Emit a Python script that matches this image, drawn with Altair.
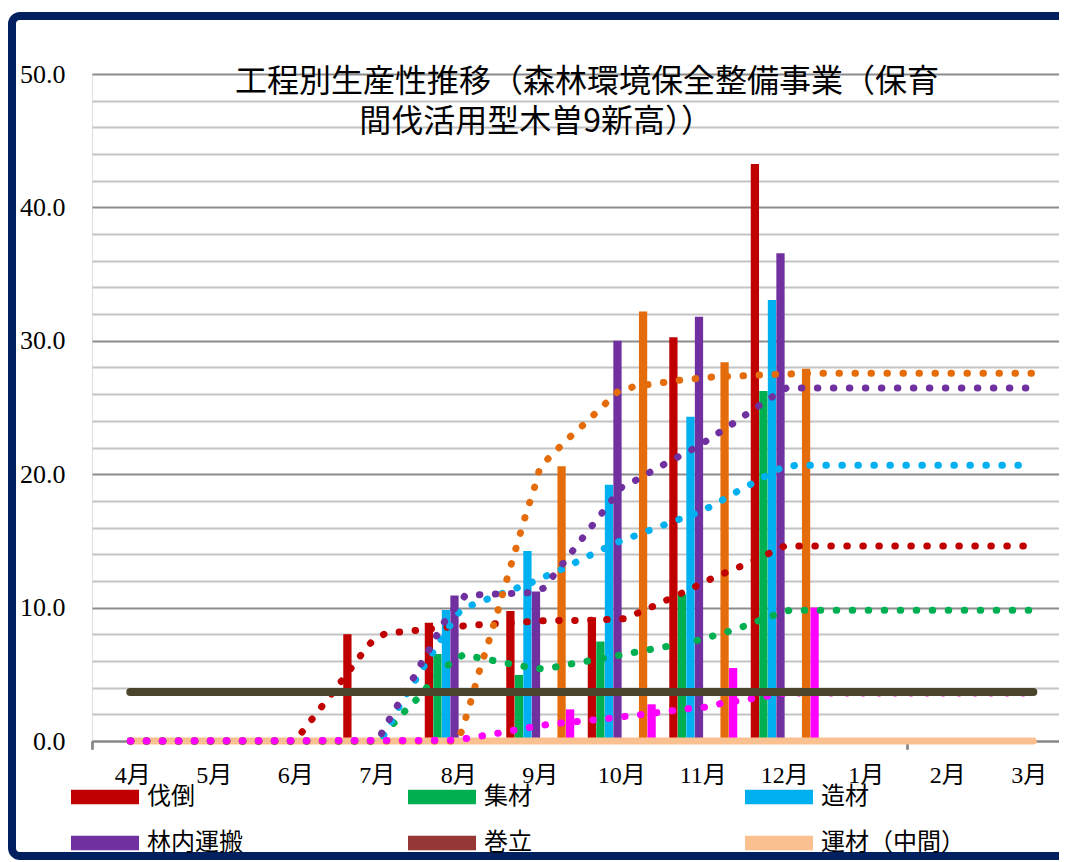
import altair as alt
import pandas as pd

# ---------------- data ----------------
months = ["4月", "5月", "6月", "7月", "8月", "9月", "10月", "11月", "12月", "1月", "2月", "3月"]
bar_series = ["伐倒", "集材", "造材", "林内運搬", "巻立", "運材（中間）", "系列7", "系列8"]
bar_colors = ["#C00000", "#00B050", "#00B0F0", "#7030A0", "#953735", "#FAC090", "#E46C0A", "#FF00FF"]
legend_items = bar_series[:6]

felling    = [None, None, None, 8.0, 8.87, 9.74, 9.27, 30.26, 43.25, None, None, None]
yarding    = [None, None, None, None, 6.52, 4.95, 7.45, 11.0, 26.24, None, None, None]
bucking    = [None, None, None, None, 9.82, 14.25, 19.2, 24.3, 33.06, None, None, None]
forwarding = [None, None, None, None, 10.9, 11.2, 30.0, 31.8, 36.56, None, None, None]
piling     = [None] * 12
transport  = [None] * 12
series7    = [None, None, None, None, None, 20.6, 32.2, 28.4, 27.9, None, None, None]
series8    = [None, None, None, None, None, 2.37, 2.75, 5.47, 10.0, None, None, None]
bar_values = [felling, yarding, bucking, forwarding, piling, transport, series7, series8]

# trend (dotted) series: positions in month units along the secondary axis, values
trend_names = ["伐倒推移", "集材推移", "造材推移", "林内運搬推移", "系列7推移", "系列8推移"]
trend_colors = ["#C00000", "#00B050", "#00B0F0", "#7030A0", "#E46C0A", "#FF00FF"]

red_m = [0.47, 2.49, 2.60, 2.84, 3.08, 3.32, 3.44, 3.60, 3.99, 4.38, 4.77, 5.17, 5.56, 6.15, 6.54, 6.90, 7.26, 7.61, 7.97, 8.33, 8.50, 11.55]
red_v = [0, 0, 0.85, 2.75, 4.65, 6.6, 7.5, 8.06, 8.3, 8.55, 8.72, 8.87, 9.02, 9.05, 9.17, 10.14, 11.15, 12.2, 13.12, 14.12, 14.62, 14.62]

green_m = [0.47, 3.53, 3.60, 3.74, 3.87, 4.01, 4.14, 4.27, 4.41, 4.56, 4.76, 4.95, 5.14, 5.34, 5.53, 5.73, 5.91, 6.11, 6.30, 6.49, 6.69, 6.88, 7.08, 7.27, 7.45, 7.64, 7.83, 8.01, 8.20, 8.38, 8.56, 11.55]
green_v = [0, 0, 0.67, 1.56, 2.45, 3.28, 4.25, 5.07, 5.94, 6.47, 6.22, 6.0, 5.77, 5.55, 5.4, 5.6, 5.82, 6.02, 6.24, 6.45, 6.69, 6.9, 7.12, 7.32, 7.57, 7.91, 8.25, 8.62, 9.07, 9.45, 9.8, 9.8]

blue_m = [0.47, 3.53, 3.60, 3.79, 4.00, 4.10, 4.21, 4.42, 4.53, 4.71, 4.90, 5.07, 5.26, 5.44, 5.62, 5.80, 5.98, 6.16, 6.33, 6.51, 6.70, 6.88, 7.06, 7.25, 7.43, 7.61, 7.78, 7.95, 8.13, 8.30, 8.48, 8.66, 11.55]
blue_v = [0, 0, 0.6, 2.83, 4.87, 5.87, 6.9, 8.94, 9.87, 10.32, 10.74, 11.15, 11.58, 11.99, 12.5, 12.97, 13.53, 14.06, 14.56, 15.07, 15.46, 15.89, 16.29, 16.72, 17.11, 17.64, 18.22, 18.82, 19.39, 19.99, 20.56, 20.67, 20.67]

purple_m = [0.47, 3.51, 3.57, 3.67, 3.77, 3.87, 3.97, 4.06, 4.16, 4.25, 4.35, 4.58, 4.77, 4.97, 5.17, 5.36, 5.54, 5.78, 5.90, 6.02, 6.14, 6.26, 6.38, 6.50, 6.68, 6.85, 7.02, 7.19, 7.37, 7.53, 7.70, 7.87, 8.03, 8.19, 8.35, 8.52, 11.55]
purple_v = [0, 0, 0.8, 1.85, 2.9, 4.0, 5.0, 6.05, 7.1, 8.15, 9.2, 10.91, 10.97, 11.02, 11.07, 11.12, 11.45, 13.32, 14.27, 15.22, 16.17, 17.11, 18.07, 19.02, 19.57, 20.16, 20.74, 21.29, 21.87, 22.47, 23.14, 23.82, 24.49, 25.16, 25.81, 26.46, 26.46]

orange_m = [0.47, 4.48, 4.54, 4.65, 4.76, 4.88, 4.99, 5.10, 5.21, 5.32, 5.44, 5.49, 5.61, 5.75, 5.89, 6.04, 6.18, 6.32, 6.46, 6.65, 6.85, 7.23, 7.62, 8.01, 8.41, 8.80, 11.55]
orange_v = [0, 0, 0.8, 3.02, 5.4, 7.7, 9.99, 12.32, 14.62, 16.92, 19.21, 20.37, 21.27, 22.11, 22.94, 23.76, 24.59, 25.41, 26.24, 26.56, 26.74, 27.06, 27.29, 27.38, 27.49, 27.56, 27.56]

magenta_m = [0.47, 4.43, 4.63, 4.83, 5.02, 5.21, 5.40, 5.60, 5.80, 5.99, 6.18, 6.38, 6.57, 6.77, 6.96, 7.16, 7.35, 7.55, 7.74, 7.94, 8.12, 8.32, 8.52, 11.55]
magenta_v = [0, 0.05, 0.22, 0.43, 0.62, 0.85, 1.05, 1.25, 1.37, 1.48, 1.6, 1.72, 1.87, 2.0, 2.15, 2.3, 2.45, 2.55, 2.85, 3.02, 3.2, 3.4, 3.6, 3.6]

trend_m = [red_m, green_m, blue_m, purple_m, orange_m, magenta_m]
trend_v = [red_v, green_v, blue_v, purple_v, orange_v, magenta_v]

# solid horizontal series
olive_m = [0.47, 11.55]
olive_v = [3.67, 3.67]
peach_m = [0.47, 11.55]
peach_v = [0.0, 0.0]

title_line1 = "工程別生産性推移（森林環境保全整備事業（保育"
title_line2 = "間伐活用型木曽9新高））"

# ---------------- tables ----------------
bar_rows = []
for s, vals in zip(bar_series, bar_values):
    for mo, v in zip(months, vals):
        if v is not None:
            bar_rows.append({"month": mo, "s": s, "v": v})
bar_df = pd.DataFrame(bar_rows)

trend_rows = []
for s, ms, vs in zip(trend_names, trend_m, trend_v):
    for m, v in zip(ms, vs):
        trend_rows.append({"s": s, "m": m, "v": v})
trend_df = pd.DataFrame(trend_rows)

olive_df = pd.DataFrame({"m": olive_m, "v": olive_v})
peach_df = pd.DataFrame({"m": peach_m, "v": peach_v})

# ---------------- scales / axes ----------------
RANGE_X = [0, 978]
y_scale = alt.Scale(domain=[0, 50], nice=False, zero=True)
y_axis = alt.Axis(
    values=list(range(0, 51, 2)),
    labelExpr="datum.value % 10 === 0 ? format(datum.value, '.1f') : ''",
    gridColor={"condition": {"test": "datum.value % 10 === 0", "value": "#8C8C8C"}, "value": "#C4C4C4"},
    gridWidth=2,
    ticks=False,
    domain=False,
    labelFont="Liberation Serif",
    labelFontSize=26,
    labelColor="#000000",
    labelPadding=27,
    title=None,
)
y_enc = alt.Y("v:Q", scale=y_scale, axis=y_axis)

mq_scale = alt.Scale(domain=[0, 12], range=RANGE_X, nice=False, zero=False)
mq_axis = alt.Axis(values=[0, 10], labels=False, ticks=True, tickSize=8, tickWidth=2,
                   tickColor="#868686", domain=False, grid=False, title=None, orient="bottom")

bars = alt.Chart(bar_df).mark_bar().encode(
    x=alt.X("month:N", sort=months,
            scale=alt.Scale(domain=months, range=RANGE_X, paddingInner=0.166, paddingOuter=0.083),
            axis=alt.Axis(title=None, ticks=False, labelAngle=0, domainColor="#868686", domainWidth=2,
                          labelFont="Liberation Serif, Noto Sans CJK JP", labelFontSize=24,
                          labelColor="#000000", labelPadding=22, grid=False)),
    xOffset=alt.XOffset("s:N", scale=alt.Scale(domain=bar_series, paddingInner=0.03)),
    y=y_enc,
    color=alt.Color("s:N", scale=alt.Scale(domain=bar_series, range=bar_colors),
                    legend=alt.Legend(
                        values=legend_items, title=None, orient="none", direction="horizontal",
                        legendX=-21, legendY=689,
                        columns=3, gridAlign="all", columnPadding=117, rowPadding=-30,
                        symbolType="M-1,-0.21H1V0.21H-1Z", symbolSize=4624, symbolStrokeWidth=0,
                        symbolOpacity=1, labelFont="Noto Sans CJK JP", labelFontSize=24,
                        labelColor="#000000", labelOffset=8, padding=0, labelLimit=300)),
)

peach = alt.Chart(peach_df).mark_line(color="#FAC090", strokeWidth=7, strokeCap="round").encode(
    x=alt.X("m:Q", scale=mq_scale, axis=mq_axis), y=y_enc)

dotted = alt.Chart(trend_df).mark_line(strokeWidth=7, strokeDash=[0.5, 15.5], strokeCap="round",
                                       strokeJoin="round").encode(
    x=alt.X("m:Q", scale=mq_scale, axis=mq_axis),
    y=y_enc,
    color=alt.Color("s:N", scale=alt.Scale(domain=trend_names, range=trend_colors), legend=None),
    detail="s:N",
)

olive = alt.Chart(olive_df).mark_line(color="#4A442D", strokeWidth=8, strokeCap="round").encode(
    x=alt.X("m:Q", scale=mq_scale, axis=mq_axis), y=y_enc)

t1 = alt.Chart(pd.DataFrame({"t": [title_line1]})).mark_text(
    font="Noto Sans CJK JP", fontSize=32, color="#000000", align="center", baseline="middle").encode(
    text="t:N", x=alt.value(495), y=alt.value(8))
t2 = alt.Chart(pd.DataFrame({"t": [title_line2]})).mark_text(
    font="Noto Sans CJK JP", fontSize=32, color="#000000", align="center", baseline="middle").encode(
    text="t:N", x=alt.value(444), y=alt.value(48))

frame = alt.Chart(pd.DataFrame({"f": [1]})).mark_rect(
    fillOpacity=0, stroke="#002060", strokeWidth=8, cornerRadius=8).encode(
    x=alt.value(-80), x2=alt.value(1100), y=alt.value(-58), y2=alt.value(782))

chart = alt.layer(bars, peach, dotted, olive, t1, t2, frame).resolve_scale(
    x="independent", color="independent"
).properties(
    width=967, height=667,
    autosize=alt.AutoSizeParams(type="none"),
    padding={"left": 84, "top": 66, "right": 0, "bottom": 119},
).configure_view(stroke=None).configure(background="#FFFFFF")

chart.save("out.html", embed_options={"renderer": "svg", "actions": False})
